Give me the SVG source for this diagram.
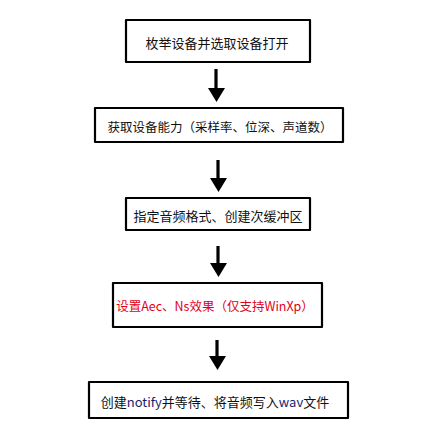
<svg xmlns="http://www.w3.org/2000/svg" width="437" height="436" viewBox="0 0 437 436">
<defs>
<style>
.box{fill:#fff;stroke:#000;stroke-width:2.2;stroke-linejoin:round}
.t{font-family:"Noto Sans CJK SC","DejaVu Sans",sans-serif;font-size:13px;fill:#111;dominant-baseline:central}
.s{font-size:12.5px}
.red{fill:#e0001b;font-size:12.5px}
.lat{fill:#1c1c6e}
.conn line{stroke:#000;stroke-width:3.2}
</style>
</defs>
<rect width="437" height="436" fill="#fff"/>
<g id="n1"><rect class="box" x="126" y="20" width="184" height="42"/><text class="t" x="217" y="42" text-anchor="middle">枚举设备并选取设备打开</text></g>
<g id="n2"><rect class="box" x="95" y="108" width="248" height="34"/><text class="t s" x="220" y="126" text-anchor="middle">获取设备能力（采样率、位深、声道数）</text></g>
<g id="n3"><rect class="box" x="126" y="198" width="184" height="32"/><text class="t" x="218" y="215" text-anchor="middle">指定音频格式、创建次缓冲区</text></g>
<g id="n4"><rect class="box" x="113" y="283" width="209" height="44"/><text class="t red" x="215" y="305" text-anchor="middle">设置Aec、Ns效果（仅支持WinXp）</text></g>
<g id="n5"><rect class="box" x="89" y="382" width="259" height="36"/><text class="t" x="215" y="401" text-anchor="middle">创建<tspan class="lat">notify</tspan>并等待、将音频写入<tspan class="lat">wav</tspan>文件</text></g>
<g id="connectors" class="conn">
<g><line x1="216" y1="69" x2="216" y2="89"/><path d="M208,88 L225,88 L216.5,102 Z"/></g>
<g><line x1="218" y1="160" x2="218" y2="179"/><path d="M210,178 L227,178 L218.5,192 Z"/></g>
<g><line x1="218" y1="246" x2="218" y2="264"/><path d="M210,263 L227,263 L218.5,277 Z"/></g>
<g><line x1="217" y1="340" x2="217" y2="357"/><path d="M209,356 L226,356 L217.5,370 Z"/></g>
</g>
</svg>
